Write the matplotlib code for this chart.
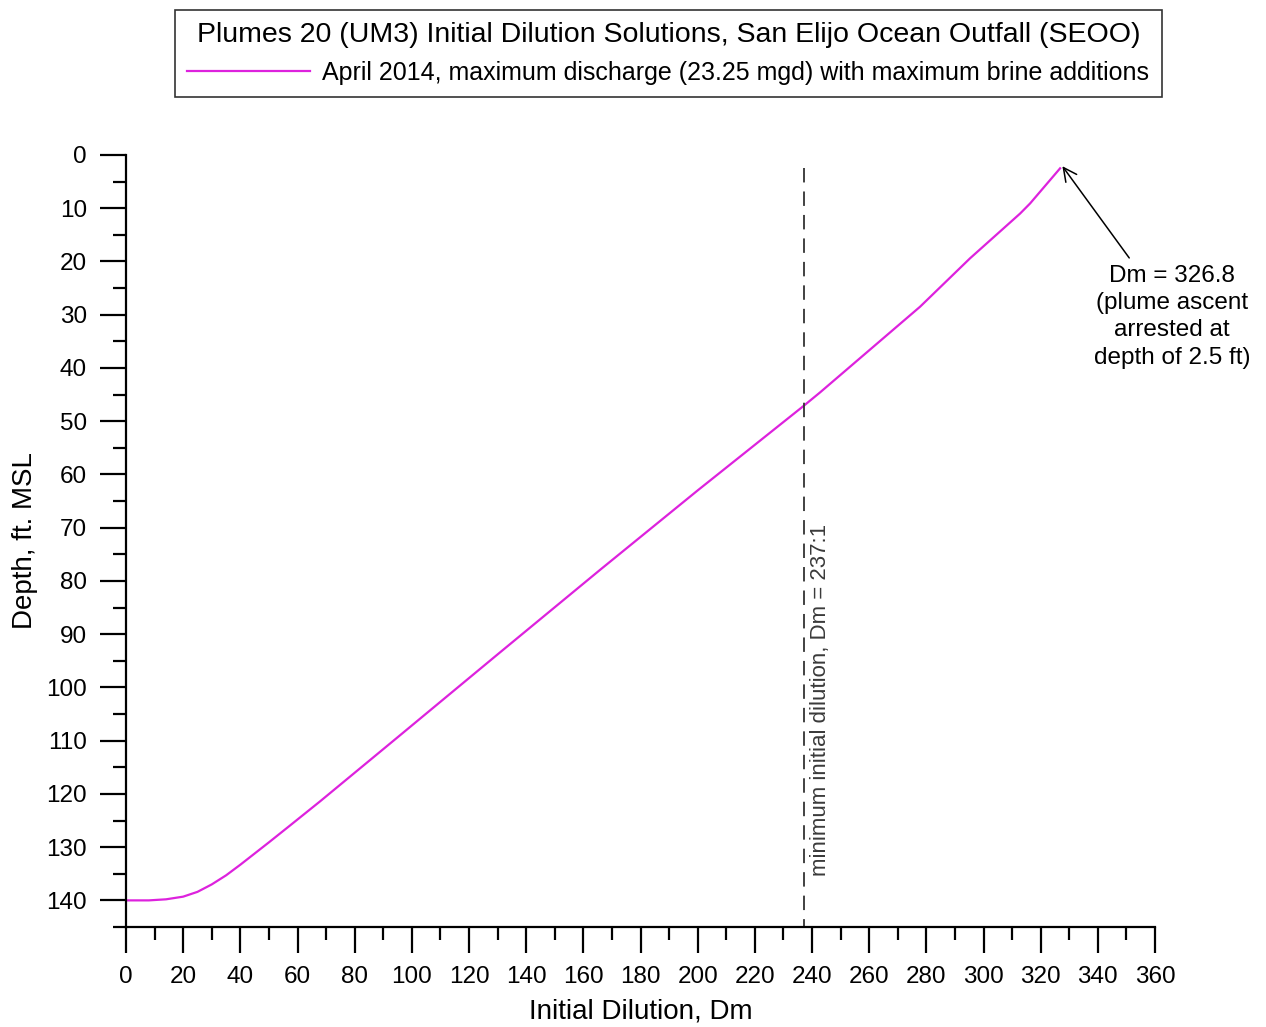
import matplotlib
matplotlib.use("Agg")
import matplotlib.pyplot as plt
from matplotlib.ticker import MultipleLocator

plt.rcParams['font.family'] = ['Liberation Sans', 'DejaVu Sans']

# Data
dilution = [0, 8, 14, 20, 25, 30, 35, 40, 45, 50, 57, 67.9, 94.5, 130,
            165.9, 200, 236.9, 242.8, 277.8, 295.3, 312.8, 316.3, 326.8]
depth = [140, 140, 139.8, 139.3, 138.4, 137.0, 135.3, 133.3, 131.2, 129.1, 126.1, 121.4,
         109.6, 93.8, 77.9, 63.0, 47.2, 44.6, 28.5, 19.4, 11.0, 9.1, 2.5]
series_label = "April 2014, maximum discharge (23.25 mgd) with maximum brine additions"
legend_title = "Plumes 20 (UM3) Initial Dilution Solutions, San Elijo Ocean Outfall (SEOO)"
min_dilution = 237.1
min_label = "minimum initial dilution, Dm = 237:1"
end_dilution = 326.8
end_depth = 2.5
end_label = "Dm = 326.8\n(plume ascent\narrested at\ndepth of 2.5 ft)"

fig = plt.figure(figsize=(12.66, 10.27), dpi=100)
ax = fig.add_axes([126/1266, 1-927/1027, (1155-126)/1266, (927-155)/1027])

line, = ax.plot(dilution, depth, color='#dd22dd', lw=1.6, label=series_label)
ax.plot([min_dilution, min_dilution], [2.4, 145], color='#333333', lw=1.3,
        dashes=(8, 5))
ax.text(min_dilution + 5.8, 102.3, min_label, rotation=90, ha='center', va='center',
        fontsize=16, color='#3a3a3a')

ax.annotate(end_label, xy=(end_dilution + 0.8, end_depth - 0.4),
            xytext=(366, 30.4), ha='center', va='center', fontsize=17.5,
            linespacing=1.3, annotation_clip=False,
            arrowprops=dict(arrowstyle='->', color='black', lw=1.1,
                            mutation_scale=24, shrinkA=4, shrinkB=0))

ax.set_xlim(0, 360)
ax.set_ylim(145, 0)
ax.xaxis.set_major_locator(MultipleLocator(20))
ax.xaxis.set_minor_locator(MultipleLocator(10))
ax.yaxis.set_minor_locator(MultipleLocator(5))
ax.set_yticks([t for t in range(0, 141, 10)])
for s in ['top', 'right']:
    ax.spines[s].set_visible(False)
for s in ['left', 'bottom']:
    ax.spines[s].set_linewidth(1.6)
ax.tick_params(which='major', length=19, width=1.6, labelsize=17.5, direction='out')
ax.tick_params(which='minor', length=9.5, width=1.6, direction='out')
ax.tick_params(axis='y', which='major', pad=9)
ax.tick_params(axis='x', which='major', pad=9)
ax.set_xlabel("Initial Dilution, Dm", fontsize=20, labelpad=8)
ax.set_ylabel("Depth, ft. MSL", fontsize=20, labelpad=6)

leg = fig.legend(handles=[line], title=legend_title, loc='center',
                 bbox_to_anchor=((174+1163)/2/1266, 1-53.5/1027),
                 fontsize=18, title_fontsize=20.5, frameon=True, fancybox=False,
                 edgecolor='black', handlelength=4.9, handletextpad=0.5,
                 borderpad=0.5, labelspacing=0.5)
leg.get_frame().set_linewidth(1.2)

fig.savefig("out.png", dpi=100)
